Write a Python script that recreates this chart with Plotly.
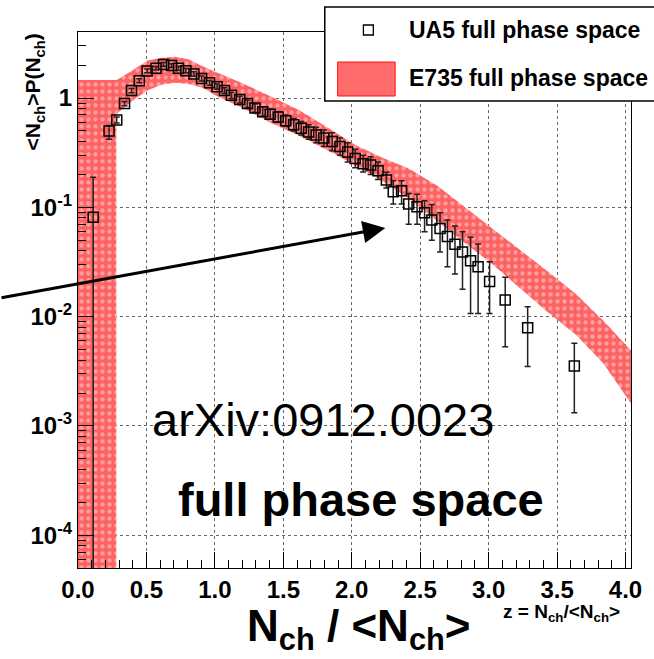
import plotly.graph_objects as go

# ---------------- data ----------------
ua5_x = [0.111, 0.227, 0.283, 0.340, 0.391, 0.448, 0.505, 0.570, 0.625, 0.683,
         0.734, 0.788, 0.847, 0.903, 0.961, 1.016, 1.070, 1.121, 1.182, 1.238,
         1.293, 1.350, 1.404, 1.463, 1.518, 1.576, 1.631, 1.685, 1.740, 1.796,
         1.857, 1.914, 1.970, 2.025, 2.083, 2.138, 2.192, 2.253, 2.303, 2.364,
         2.416, 2.477, 2.532, 2.585, 2.645, 2.699, 2.754, 2.809, 2.868, 2.923,
         3.007, 3.121, 3.285, 3.626]
ua5_y = [0.081, 0.50, 0.63, 0.89, 1.17, 1.44, 1.77, 1.87, 2.03, 1.98,
         1.87, 1.78, 1.66, 1.51, 1.38, 1.27, 1.17, 1.06, 0.97, 0.89,
         0.81, 0.75, 0.71, 0.67, 0.62, 0.57, 0.53, 0.49, 0.46, 0.43,
         0.40, 0.36, 0.32, 0.28, 0.25, 0.244, 0.216, 0.178, 0.139, 0.142,
         0.107, 0.101, 0.089, 0.0766, 0.064, 0.054, 0.046, 0.039, 0.0325, 0.0286,
         0.0209, 0.0142, 0.0079, 0.00353]
ua5_lo = [1e-6, 0.42, 0.59, 0.85, 1.12, 1.38, 1.70, 1.80, 1.95, 1.90,
          1.79, 1.70, 1.58, 1.43, 1.31, 1.20, 1.10, 0.99, 0.90, 0.82,
          0.74, 0.68, 0.64, 0.60, 0.55, 0.50, 0.46, 0.42, 0.39, 0.36,
          0.33, 0.30, 0.26, 0.23, 0.21, 0.20, 0.18, 0.15, 0.107, 0.107,
          0.070, 0.070, 0.0598, 0.050, 0.039, 0.0286, 0.0245, 0.0178, 0.0107, 0.0107,
          0.0107, 0.0053, 0.0035, 0.00132]
ua5_hi = [0.188, 0.56, 0.67, 0.93, 1.22, 1.50, 1.84, 1.94, 2.11, 2.06,
          1.95, 1.86, 1.74, 1.59, 1.45, 1.34, 1.24, 1.13, 1.04, 0.96,
          0.88, 0.83, 0.79, 0.75, 0.70, 0.65, 0.61, 0.57, 0.54, 0.51,
          0.48, 0.43, 0.39, 0.34, 0.30, 0.29, 0.26, 0.209, 0.175, 0.175,
          0.134, 0.132, 0.115, 0.106, 0.089, 0.0766, 0.0675, 0.0598, 0.0532, 0.0461,
          0.0318, 0.0229, 0.0123, 0.0057]

band_x = [0.0, 0.28, 0.28, 0.30, 0.40, 0.51, 0.61, 0.71, 0.81, 0.91, 1.01, 1.21,
          1.41, 1.62, 1.82, 2.02, 2.22, 2.42, 2.63, 2.83, 3.03, 3.23, 3.43, 3.64,
          3.84, 4.04]
band_hi = [1.46, 1.46, 1.46, 1.50, 1.81, 2.20, 2.33, 2.38, 2.25, 1.95, 1.72, 1.35,
           1.03, 0.77, 0.54, 0.375, 0.285, 0.225, 0.156, 0.10, 0.064, 0.041, 0.026, 0.016,
           0.0091, 0.0049]
band_lo = [1e-5, 1e-5, 0.70, 0.75, 0.95, 1.18, 1.32, 1.38, 1.34, 1.24, 1.05, 0.80,
           0.59, 0.45, 0.335, 0.245, 0.175, 0.12, 0.074, 0.047, 0.030, 0.018, 0.011, 0.0068,
           0.0037, 0.0016]

x_tick_vals = [0.0, 0.5, 1.0, 1.5, 2.0, 2.5, 3.0, 3.5, 4.0]
x_tick_text = ["0.0", "0.5", "1.0", "1.5", "2.0", "2.5", "3.0", "3.5", "4.0"]
y_tick_vals = [1e-4, 1e-3, 1e-2, 1e-1, 1.0]
y_tick_text = ["10<sup>-4</sup>", "10<sup>-3</sup>", "10<sup>-2</sup>", "10<sup>-1</sup>", "1"]
y_minor_vals = [m * 10.0 ** d for d in range(-5, 1) for m in range(2, 10)]

# ---------------- layout helpers ----------------
W, H = 654, 659
L, R, T, B = 78, 18, 32, 91
PW, PH = W - L - R, H - T - B


def px(xp):
    return (xp - L) / PW


def py(yp):
    return 1 - (yp - T) / PH


FONT = "Liberation Sans, Arial, Helvetica, sans-serif"

fig = go.Figure()

# E735 band
fig.add_trace(go.Scatter(
    x=band_x + band_x[::-1],
    y=band_hi + band_lo[::-1],
    mode="lines",
    fill="toself",
    line=dict(width=0, color="rgba(0,0,0,0)"),
    fillcolor="#ff6262",
    fillpattern=dict(shape=".", bgcolor="#ff6262", fgcolor="#ffa0a0",
                     size=7, solidity=0.3, fillmode="replace"),
    showlegend=False,
    hoverinfo="skip",
))

# UA5 points
fig.add_trace(go.Scatter(
    x=ua5_x,
    y=ua5_y,
    mode="markers",
    marker=dict(symbol="square-open", size=10, color="black", line=dict(width=1.5, color="black")),
    error_y=dict(type="data", symmetric=False,
                 array=[h - y for h, y in zip(ua5_hi, ua5_y)],
                 arrayminus=[y - l for y, l in zip(ua5_y, ua5_lo)],
                 color="#222", thickness=1.5, width=3),
    showlegend=False,
))

axis_common = dict(
    showline=True, linecolor="black", linewidth=1.2, mirror=True,
    ticks="inside", tickcolor="black", tickwidth=1,
    showgrid=True, gridcolor="#666", griddash="dot", gridwidth=1,
    zeroline=False,
    tickfont=dict(family=FONT, size=24, color="black", weight="bold"),
)

fig.update_layout(
    width=W, height=H,
    margin=dict(l=L, r=R, t=T, b=B, pad=0),
    paper_bgcolor="white", plot_bgcolor="white",
    showlegend=False,
    xaxis=dict(range=[0, 4.04], tickmode="array", tickvals=x_tick_vals, ticktext=x_tick_text,
               ticklen=16,
               minor=dict(ticks="inside", ticklen=8, dtick=0.1, tick0=0, tickcolor="black",
                          showgrid=False),
               **axis_common),
    yaxis=dict(type="log", range=[-4.30, 0.604], tickmode="array", tickvals=y_tick_vals,
               ticktext=y_tick_text, ticklen=16,
               minor=dict(ticks="inside", ticklen=8, tickvals=y_minor_vals, tickcolor="black",
                          showgrid=False),
               **axis_common),
)

shapes = []
# legend box
shapes.append(dict(type="rect", xref="paper", yref="paper", layer="above",
                   x0=px(327), x1=px(700), y0=py(101), y1=py(7),
                   line=dict(color="black", width=1.5), fillcolor="white"))
# legend marker
shapes.append(dict(type="rect", xref="paper", yref="paper", layer="above",
                   x0=px(366), x1=px(376), y0=py(35), y1=py(25),
                   line=dict(color="black", width=1.3), fillcolor="white"))
# legend band swatch
shapes.append(dict(type="rect", xref="paper", yref="paper", layer="above",
                   x0=px(340), x1=px(398), y0=py(96), y1=py(62),
                   line=dict(color="#ff1010", width=1), fillcolor="#ff6a6a"))
fig.update_layout(shapes=shapes)

ann = []
ann.append(dict(xref="paper", yref="paper", x=px(410), y=py(30), xanchor="left", yanchor="middle",
                text="UA5 full phase space", showarrow=False,
                font=dict(family=FONT, size=23, color="black", weight="bold")))
ann.append(dict(xref="paper", yref="paper", x=px(410), y=py(78), xanchor="left", yanchor="middle",
                text="E735 full phase space", showarrow=False,
                font=dict(family=FONT, size=23, color="black", weight="bold")))
ann.append(dict(xref="paper", yref="paper", x=px(325), y=py(419), xanchor="center", yanchor="middle",
                text="arXiv:0912.0023", showarrow=False,
                font=dict(family=FONT, size=47, color="black")))
ann.append(dict(xref="paper", yref="paper", x=px(364), y=py(499), xanchor="center", yanchor="middle",
                text="full phase space", showarrow=False,
                font=dict(family=FONT, size=47, color="black", weight="bold")))
ann.append(dict(xref="paper", yref="paper", x=px(362), y=py(629), xanchor="center", yanchor="middle",
                text="N<sub>ch</sub> / <N<sub>ch</sub>>", showarrow=False,
                font=dict(family=FONT, size=44, color="black", weight="bold")))
ann.append(dict(xref="paper", yref="paper", x=px(505), y=py(613), xanchor="left", yanchor="middle",
                text="z = N<sub>ch</sub>/<N<sub>ch</sub>>", showarrow=False,
                font=dict(family=FONT, size=19, color="black", weight="bold")))
ann.append(dict(xref="paper", yref="paper", x=px(34), y=py(92), xanchor="center", yanchor="middle",
                text="<N<sub>ch</sub>>P(N<sub>ch</sub>)", showarrow=False, textangle=-90,
                font=dict(family=FONT, size=21, color="black", weight="bold")))
# arrow
ann.append(dict(xref="x", yref="y", x=2.245, y=-1.189, text="", showarrow=True,
                ax=-388, ay=70, axref="pixel", ayref="pixel",
                arrowhead=2, arrowsize=1.5, arrowwidth=3, arrowcolor="black", standoff=0))
fig.update_layout(annotations=ann)

fig.write_html("out.html")
